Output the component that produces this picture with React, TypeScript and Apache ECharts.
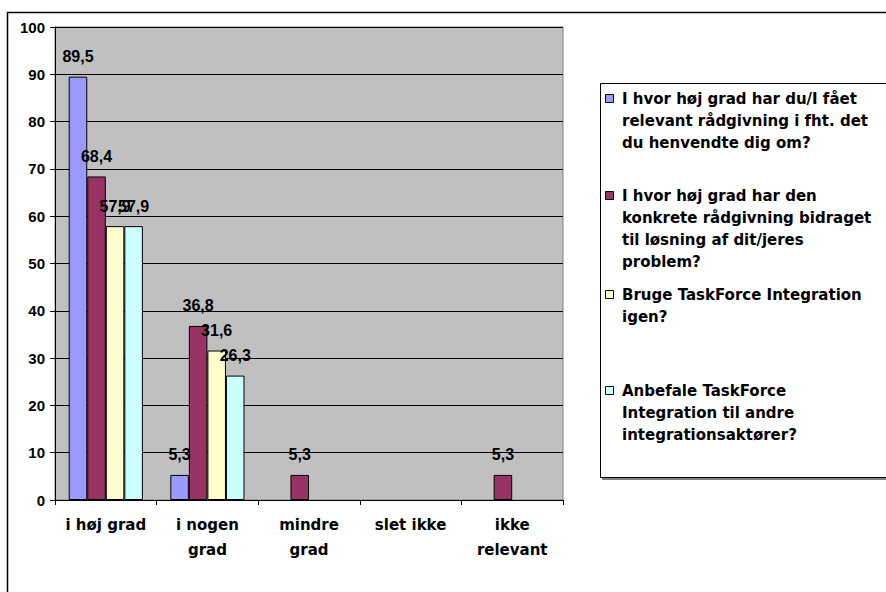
import React, { useEffect, useRef } from "react";
import * as echarts from "echarts";

const categories = ["i høj grad", "i nogen\ngrad", "mindre\ngrad", "slet ikke", "ikke\nrelevant"];
const seriesNames = [
  "I hvor høj grad har du/I fået relevant rådgivning i fht. det du henvendte dig om?",
  "I hvor høj grad har den konkrete rådgivning bidraget til løsning af dit/jeres problem?",
  "Bruge TaskForce Integration igen?",
  "Anbefale TaskForce Integration til andre integrationsaktører?",
];
const legendLines = [
  ["I hvor høj grad har du/I fået", "relevant rådgivning i fht. det", "du henvendte dig om?"],
  ["I hvor høj grad har den", "konkrete rådgivning bidraget", "til løsning af dit/jeres", "problem?"],
  ["Bruge TaskForce Integration", "igen?"],
  ["Anbefale TaskForce", "Integration til andre", "integrationsaktører?"],
];
const series1 = [89.5, 5.3, 0, 0, 0];
const series2 = [68.4, 36.8, 5.3, 0, 5.3];
const series3 = [57.9, 31.6, 0, 0, 0];
const series4 = [57.9, 26.3, 0, 0, 0];
const allSeries = [series1, series2, series3, series4];
const colors = ["#9999FF", "#993366", "#FFFFCC", "#CCFFFF"];
const yTicks = [0, 10, 20, 30, 40, 50, 60, 70, 80, 90, 100];

const FONT = "'Liberation Sans', Arial, sans-serif";
const WIDE = "'DejaVu Sans', Verdana, sans-serif";
const legendTops = [99, 196, 295, 391];

export default function App() {
  const ref = useRef<HTMLDivElement>(null);
  useEffect(() => {
    if (!ref.current) return;
    const chart = echarts.init(ref.current, null, { renderer: "svg" });
    const graphics: any[] = [
      {
        type: "rect",
        z: -10,
        silent: true,
        shape: { x: 7.5, y: 12.5, width: 900, height: 600 },
        style: { fill: "#FFFFFF", stroke: "#000000", lineWidth: 1.5 },
      },
      {
        type: "rect",
        z: 1,
        silent: true,
        shape: { x: 602, y: 86, width: 300, height: 394 },
        style: { fill: "#808080" },
      },
      {
        type: "rect",
        z: 2,
        silent: true,
        shape: { x: 600.5, y: 83.5, width: 300, height: 394 },
        style: { fill: "#FFFFFF", stroke: "#000000", lineWidth: 1 },
      },
    ];
    legendLines.forEach((lines, i) => {
      graphics.push({
        type: "rect",
        z: 3,
        shape: { x: 605.5, y: legendTops[i] - 4.5, width: 8, height: 8 },
        style: { fill: colors[i], stroke: "#000000", lineWidth: 1 },
      });
      graphics.push({
        type: "text",
        z: 3,
        x: 622,
        y: legendTops[i] - 11,
        style: {
          text: lines.join("\n"),
          font: `bold 15px ${WIDE}`,
          fill: "#000000",
          lineHeight: 22,
          verticalAlign: "top",
        },
      });
    });
    chart.setOption({
      animation: false,
      backgroundColor: "#FFFFFF",
      grid: {
        left: 55,
        top: 27,
        width: 508,
        height: 473,
        show: true,
        backgroundColor: "#C0C0C0",
        borderColor: "#808080",
        borderWidth: 1,
        z: 0,
      },
      graphic: graphics,
      xAxis: {
        type: "category",
        data: categories,
        axisLine: { lineStyle: { color: "#000000", width: 1 } },
        axisTick: { show: true, length: 5, lineStyle: { color: "#000000" } },
        axisLabel: {
          color: "#000000",
          fontFamily: WIDE,
          fontWeight: "bold",
          fontSize: 15,
          lineHeight: 25,
          margin: 12,
          interval: 0,
        },
      },
      yAxis: {
        type: "value",
        min: yTicks[0],
        max: yTicks[yTicks.length - 1],
        interval: 10,
        axisLine: { show: true, lineStyle: { color: "#000000", width: 1 } },
        axisTick: { show: true, length: 5, lineStyle: { color: "#000000" } },
        splitLine: { show: true, lineStyle: { color: "#000000", width: 1 } },
        axisLabel: {
          color: "#000000",
          fontFamily: FONT,
          fontWeight: "bold",
          fontSize: 15,
          margin: 10,
        },
      },
      series: allSeries.map((data, i) => ({
        type: "bar",
        name: seriesNames[i],
        data: data.map((v) => (v === 0 ? { value: 0, itemStyle: { borderWidth: 0 } } : v)),
        barGap: "0%",
        barCategoryGap: "27%",
        itemStyle: { color: colors[i], borderColor: "#000000", borderWidth: 1 },
        label: {
          show: true,
          position: "top",
          distance: 12,
          color: "#000000",
          fontFamily: FONT,
          fontWeight: "bold",
          fontSize: 16,
          formatter: (p: any) => (p.value ? String(p.value).replace(".", ",") : ""),
        },
      })),
    });
    return () => chart.dispose();
  }, []);
  return <div ref={ref} style={{ width: 886, height: 592, position: "absolute", left: 0, top: 0 }} />;
}
